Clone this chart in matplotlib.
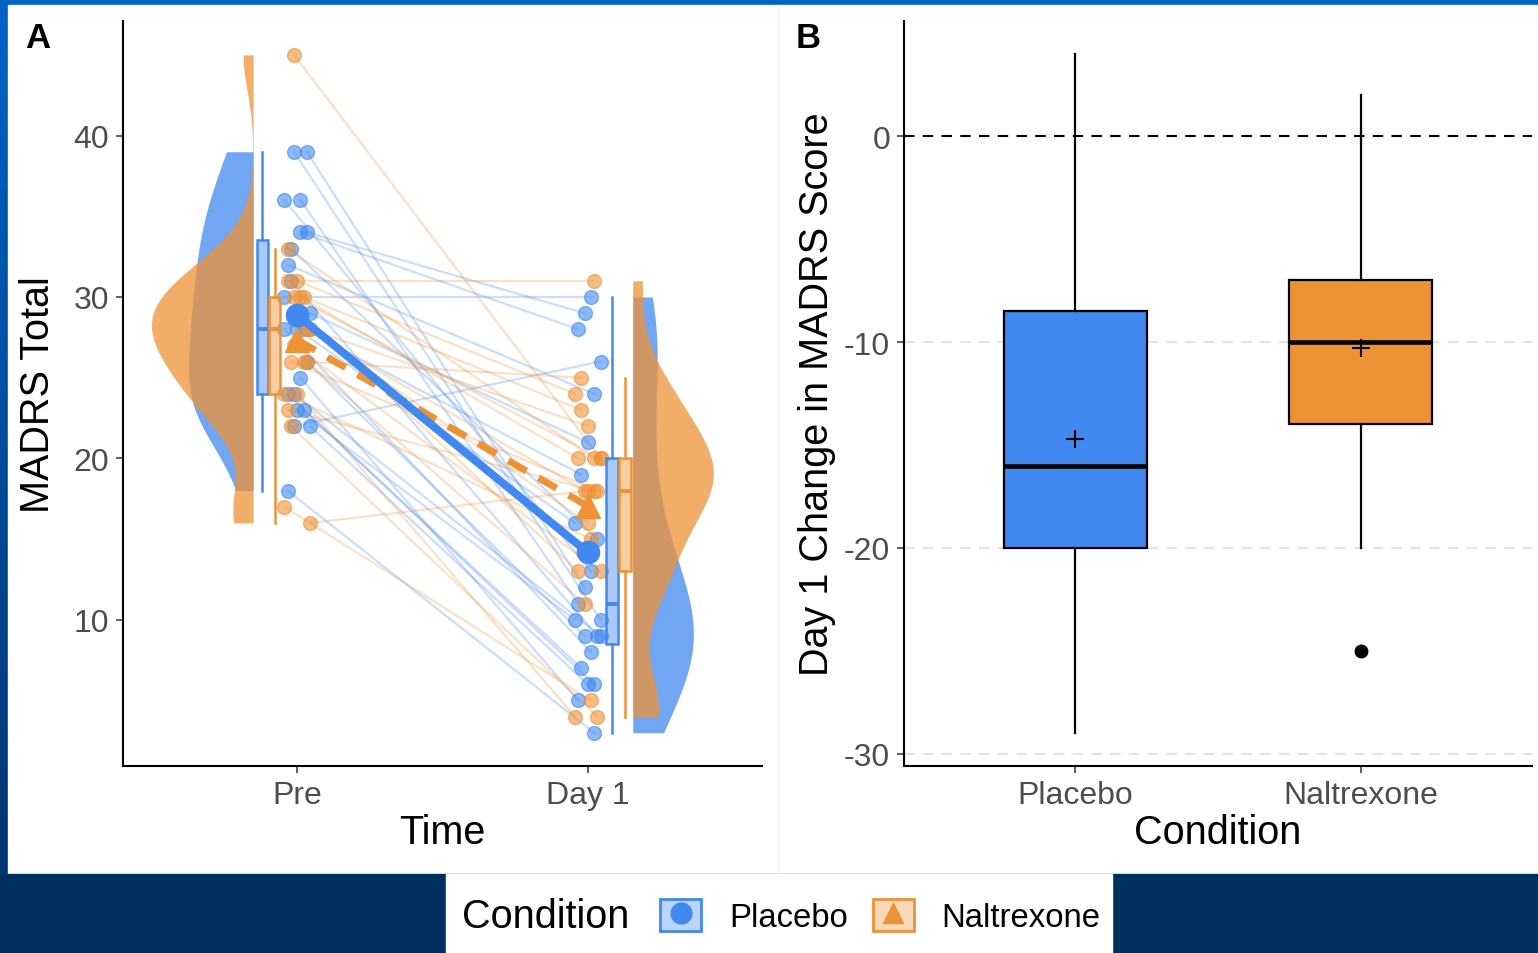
import numpy as np
import matplotlib.pyplot as plt
from matplotlib.patches import Rectangle, Patch
from matplotlib.lines import Line2D
from matplotlib.colors import to_rgba, LinearSegmentedColormap

plt.rcParams['font.family'] = ['Liberation Sans', 'DejaVu Sans']
plt.rcParams['axes.unicode_minus'] = False

# MADRS totals per participant (same order in pre and day 1)
placebo_pre = [30, 34, 34, 22, 32, 29, 28, 28, 33, 36, 39, 36, 39, 18, 22, 23, 23, 31, 28, 26, 25, 24, 24]
placebo_day1 = [30, 29, 28, 26, 24, 21, 19, 16, 15, 13, 12, 11, 10, 3, 6, 7, 10, 9, 8, 9, 5, 9, 6]
naltrexone_pre = [45, 31, 16, 26, 24, 22, 17, 26, 29, 27, 23, 28, 30, 31, 26, 24, 28, 30, 30, 33, 28]
naltrexone_day1 = [20, 31, 18, 25, 4, 4, 5, 11, 13, 13, 18, 22, 23, 24, 18, 15, 18, 20, 20, 20, 16]

conditions = ['Placebo', 'Naltrexone']
times = ['Pre', 'Day 1']
colors = ['#4189F0', '#EE9236']
markers = ['o', '^']

W, H = 1538, 954
fig = plt.figure(figsize=(W / 100, H / 100), dpi=100)

# background: blue frame, white panel area, navy band
bg = fig.add_axes([0, 0, 1, 1], zorder=-10)
grad = np.linspace(0, 1, 256).reshape(-1, 1)
cmap = LinearSegmentedColormap.from_list('frame', ['#0063C6', '#00306A'])
bg.imshow(grad, aspect='auto', cmap=cmap, extent=[0, 1, 0, 1])
bg.add_patch(Rectangle((8 / W, 1 - 875 / H), 1, (875 - 6) / H, color='white'))
bg.add_patch(Rectangle((0, 0), 1, 1 - 875 / H, color='#00305E'))
bg.add_patch(Rectangle((446 / W, 0), (1112 - 446) / W, 1 - 875 / H, color='white'))
bg.plot([778 / W, 778 / W], [1 - 875 / H, 1 - 6 / H], color='#f2f2f2', lw=1)
bg.set_xlim(0, 1)
bg.set_ylim(0, 1)
bg.axis('off')


def kde(vals, grid):
    v = np.asarray(vals, float)
    n = len(v)
    q1, q3 = np.percentile(v, [25, 75])
    bw = 0.9 * min(v.std(ddof=1), (q3 - q1) / 1.34) * n ** -0.2
    z = (grid[:, None] - v[None, :]) / bw
    return np.exp(-0.5 * z ** 2).sum(axis=1) / (n * bw * np.sqrt(2 * np.pi))


def jitter(n, k):
    return (((np.arange(n) * 7 + k) % 9) - 4) * 0.011


tick_color = '#4d4d4d'

# ---------------- Panel A ----------------
axA = fig.add_axes([123 / W, 1 - 767 / H, (762 - 123) / W, (767 - 22) / H])
axA.set_xlim(0.4, 2.6)
axA.set_ylim(0.94, 47.1)

groups = [(placebo_pre, placebo_day1), (naltrexone_pre, naltrexone_day1)]
box_off = [(-0.12, 0.083), (-0.078, 0.128)]

# violins (flat, half)
grids = []
dens = []
for pre, d1 in groups:
    for vals in (pre, d1):
        g = np.linspace(min(vals), max(vals), 200)
        grids.append(g)
        dens.append(kde(vals, g))
scale = 0.35 / max(d.max() for d in dens)
for gi in range(2):
    for ti in range(2):
        g = grids[gi * 2 + ti]
        w = dens[gi * 2 + ti] * scale
        if ti == 0:
            base = 1 - 0.152
            axA.fill_betweenx(g, base - w, base, color=colors[gi], alpha=0.75, lw=0, zorder=2)
        else:
            base = 2 + 0.155
            axA.fill_betweenx(g, base, base + w, color=colors[gi], alpha=0.75, lw=0, zorder=2)

for gi, (pre, d1) in enumerate(groups):
    c = colors[gi]
    n = len(pre)
    xp = 1 + jitter(n, gi * 3)
    xd = 2 + jitter(n, gi * 3 + 5)
    for i in range(n):
        axA.plot([xp[i], xd[i]], [pre[i], d1[i]], color=c, alpha=0.28, lw=1.6, zorder=1)
    axA.scatter(xp, pre, s=100, color=c, alpha=0.6, edgecolor=c, lw=1, zorder=3)
    axA.scatter(xd, d1, s=100, color=c, alpha=0.6, edgecolor=c, lw=1, zorder=3)
    for ti, vals in enumerate((pre, d1)):
        bp = axA.boxplot([vals], positions=[1 + ti + box_off[gi][ti]], widths=0.04,
                         patch_artist=True, showfliers=False, showcaps=False,
                         boxprops=dict(facecolor=to_rgba(c, 0.45), edgecolor=c, lw=1.8),
                         medianprops=dict(color=c, lw=2.8),
                         whiskerprops=dict(color=c, lw=1.8), manage_ticks=False)
        for art in bp['boxes'] + bp['whiskers'] + bp['medians']:
            art.set_zorder(4)

# mean lines
axA.plot([1, 2], [np.mean(placebo_pre), np.mean(placebo_day1)], color=colors[0], lw=5.8,
         marker='o', ms=16, solid_capstyle='butt', zorder=6)
axA.plot([1, 2], [np.mean(naltrexone_pre), np.mean(naltrexone_day1)], color=colors[1], lw=5,
         ls=(0, (3, 2)), marker='^', ms=17, zorder=5)

axA.set_xticks([1, 2])
axA.set_xticklabels(times)
axA.set_yticks([10, 20, 30, 40])
axA.set_xlabel('Time', fontsize=28.5, labelpad=2)
axA.set_ylabel('MADRS Total', fontsize=28.5, labelpad=12)

# ---------------- Panel B ----------------
placebo_change = [d - p for p, d in zip(placebo_pre, placebo_day1)]
naltrexone_change = [d - p for p, d in zip(naltrexone_pre, naltrexone_day1)]

axB = fig.add_axes([904 / W, 1 - 767 / H, (1532 - 904) / W, (767 - 22) / H])
axB.set_xlim(0.4, 2.6)
axB.set_ylim(-30.6, 5.6)
axB.set_axisbelow(True)
axB.yaxis.grid(True, color='#e3e3e3', lw=1.5, ls=(0, (5, 4)))
axB.axhline(0, color='black', lw=1.5, ls=(0, (5, 4)), zorder=1)
bp = axB.boxplot([placebo_change, naltrexone_change], positions=[1, 2], widths=0.5,
                 patch_artist=True, showcaps=False, showmeans=True,
                 boxprops=dict(edgecolor='black', lw=1.6),
                 medianprops=dict(color='black', lw=3.3),
                 whiskerprops=dict(color='black', lw=1.6),
                 meanprops=dict(marker='+', markersize=13, markeredgecolor='black', markeredgewidth=1.5),
                 flierprops=dict(marker='o', markersize=9, markerfacecolor='black', markeredgecolor='black'),
                 manage_ticks=False)
for box, c in zip(bp['boxes'], colors):
    box.set_facecolor(c)
for art in bp['boxes'] + bp['whiskers'] + bp['medians'] + bp['means'] + bp['fliers']:
    art.set_zorder(3)
axB.set_xticks([1, 2])
axB.set_xticklabels(conditions)
axB.set_yticks([0, -10, -20, -30])
axB.set_xlabel('Condition', fontsize=28.5, labelpad=2)
axB.set_ylabel('Day 1 Change in MADRS Score', fontsize=28.5, labelpad=6)

for ax in (axA, axB):
    ax.set_facecolor('none')
    for s in ('top', 'right'):
        ax.spines[s].set_visible(False)
    for s in ('left', 'bottom'):
        ax.spines[s].set_linewidth(1.5)
    ax.tick_params(axis='both', labelsize=23, labelcolor=tick_color, length=5, width=1.1,
                   color='#333333', pad=5)

fig.text(38 / W, 1 - 38 / H, 'A', fontsize=25, fontweight='bold', ha='center', va='center')
fig.text(808 / W, 1 - 38 / H, 'B', fontsize=25, fontweight='bold', ha='center', va='center')

# legend
fig.text(462 / W, 1 - 917 / H, 'Condition', fontsize=28.5, ha='left', va='center')
handles = []
for c, m in zip(colors, markers):
    handles.append((Patch(facecolor=to_rgba(c, 0.35), edgecolor=c, lw=2),
                    Line2D([], [], color=c, marker=m, ms=15, ls='none')))
fig.legend(handles, conditions, loc='center left', bbox_to_anchor=(660 / W, 1 - 917 / H),
           ncol=2, frameon=False, fontsize=23.7, handlelength=1.25, handleheight=1.1,
           columnspacing=0.75, handletextpad=0.85, borderaxespad=0, borderpad=0)

fig.savefig('out.png', dpi=100)
